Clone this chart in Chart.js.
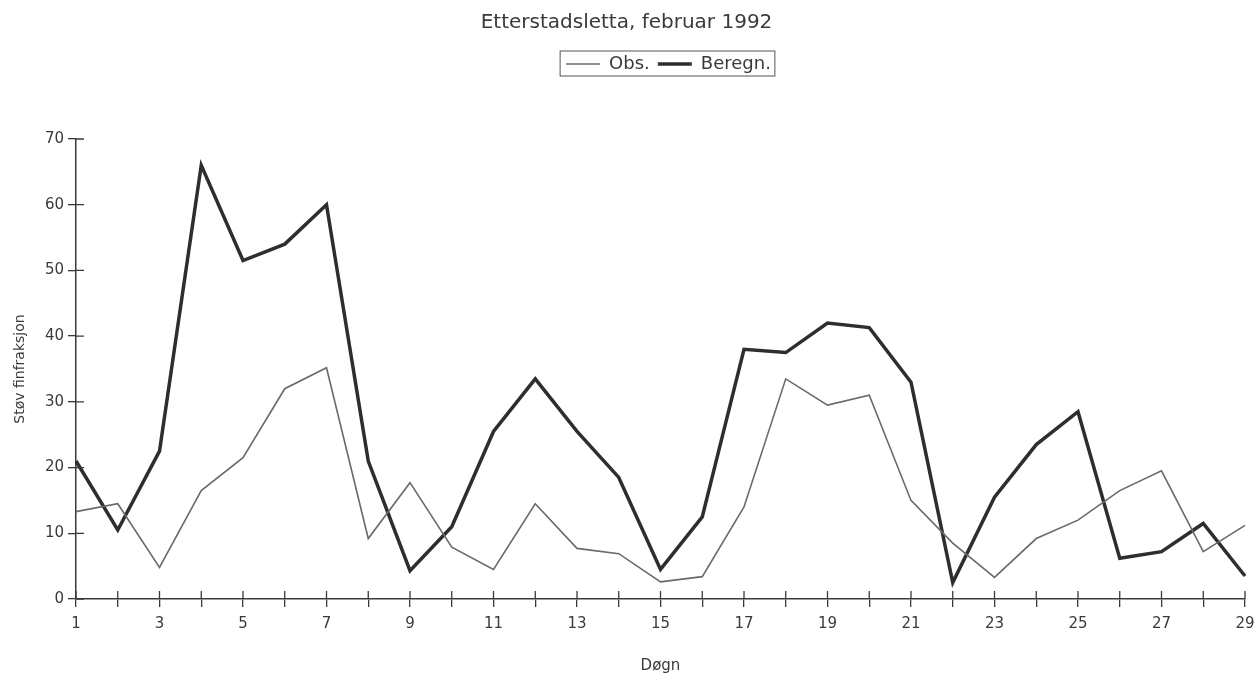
<!DOCTYPE html>
<html>
<head>
<meta charset="utf-8">
<script src="https://cdn.jsdelivr.net/npm/chart.js@4"></script>
<style>
  html, body { margin: 0; padding: 0; background: #fff; }
  #wrap { width: 1257px; height: 679px; position: relative; }
</style>
</head>
<body>
<div id="wrap"><canvas id="stov-chart"></canvas></div>
<script>
// Døgn 1..29
const days = ['1','2','3','4','5','6','7','8','9','10','11','12','13','14','15','16','17','18','19','20','21','22','23','24','25','26','27','28','29'];
const obs = [13.3, 14.5, 4.8, 16.5, 21.5, 32, 35.2, 9.2, 17.7, 7.9, 4.5, 14.5, 7.7, 6.9, 2.6, 3.4, 14, 33.5, 29.5, 31, 15, 8.5, 3.3, 9.2, 12, 16.5, 19.5, 7.2, 11.2];
const beregn = [21, 10.5, 22.5, 66, 51.5, 54, 60, 21, 4.3, 11, 25.5, 33.5, 25.5, 18.5, 4.5, 12.5, 38, 37.5, 42, 41.3, 33, 2.5, 15.5, 23.5, 28.5, 6.2, 7.2, 11.5, 3.5];
const yTicks = [0, 10, 20, 30, 40, 50, 60, 70];

const FONT = '"DejaVu Sans", sans-serif';
const INK = '#3a3a3a';
const LEGEND_SHIFT = 42;

// ticks that also poke into the plot, plus the frame round the legend
const extras = {
    id: 'extras',
    beforeInit(chart) {
        // extra room under the legend
        const fit = chart.legend.fit;
        chart.legend.fit = function () {
            fit.call(this);
            this.height += 56;
        };
    },
    afterLayout(chart) {
        // legend sits a bit right of centre in the original
        const lg = chart.legend;
        lg.left += LEGEND_SHIFT;
        lg.right += LEGEND_SHIFT;
        (lg.legendHitBoxes || []).forEach(b => { b.left += LEGEND_SHIFT; });
    },
    afterDraw(chart) {
        const ctx = chart.ctx;
        const x = chart.scales.x, y = chart.scales.y;
        ctx.save();
        ctx.strokeStyle = INK;
        ctx.lineWidth = 1.3;
        ctx.beginPath();
        days.forEach((d, i) => {
            const px = x.getPixelForValue(i);
            ctx.moveTo(px, y.bottom);
            ctx.lineTo(px, y.bottom - 8);
        });
        yTicks.forEach(v => {
            const py = y.getPixelForValue(v);
            ctx.moveTo(x.left, py);
            ctx.lineTo(x.left + 8, py);
        });
        ctx.stroke();

        const boxes = chart.legend.legendHitBoxes;
        if (boxes && boxes.length) {
            const l = Math.min(...boxes.map(b => b.left)) - 6;
            const r = Math.max(...boxes.map(b => b.left + b.width)) + 4;
            const t = Math.min(...boxes.map(b => b.top)) - 4;
            const b = Math.max(...boxes.map(b => b.top + b.height)) + 3;
            ctx.lineWidth = 1;
            ctx.strokeStyle = '#555';
            ctx.strokeRect(l, t, r - l, b - t);
        }
        ctx.restore();
    }
};

new Chart(document.getElementById('stov-chart'), {
    type: 'line',
    data: {
        labels: days,
        datasets: [{
            label: 'Obs.',
            data: obs,
            borderColor: '#6a6a6a',
            borderWidth: 1.6,
            pointRadius: 0,
            tension: 0,
        }, {
            label: 'Beregn.',
            data: beregn,
            borderColor: '#2e2e2e',
            borderWidth: 3.5,
            pointRadius: 0,
            tension: 0,
        }]
    },
    options: {
        responsive: true,
        maintainAspectRatio: false,
        animation: false,
        layout: { padding: { left: 8, right: 12, top: 0, bottom: 1 } },
        plugins: {
            title: {
                display: true,
                text: 'Etterstadsletta, februar 1992',
                color: INK,
                font: { family: FONT, size: 20, weight: 'normal' },
                padding: { top: 11, bottom: 12 }
            },
            legend: {
                display: true,
                labels: {
                    color: INK,
                    font: { family: FONT, size: 18 },
                    usePointStyle: true,
                    pointStyle: 'line',
                    pointStyleWidth: 34,
                    boxHeight: 10,
                    padding: 8
                }
            },
            tooltip: { enabled: false }
        },
        scales: {
            x: {
                offset: false,
                afterFit: s => { s.paddingRight = 0; },
                grid: { drawOnChartArea: false, tickLength: 8, color: INK, lineWidth: 1.3 },
                border: { color: INK, width: 1.5 },
                ticks: {
                    color: INK,
                    font: { family: FONT, size: 15 },
                    autoSkip: false,
                    maxRotation: 0,
                    padding: 8,
                    callback: (v, i) => (i % 2 === 0 ? days[i] : '')
                },
                title: {
                    display: true,
                    text: 'Døgn',
                    color: INK,
                    font: { family: FONT, size: 15 },
                    padding: { top: 16, bottom: 3 }
                }
            },
            y: {
                min: 0,
                max: 70,
                afterFit: s => { s.width = 68; },
                grid: { drawOnChartArea: false, tickLength: 8, color: INK, lineWidth: 1.3 },
                border: { color: INK, width: 1.5 },
                ticks: {
                    stepSize: 10,
                    color: INK,
                    font: { family: FONT, size: 15 },
                    padding: 4
                },
                title: {
                    display: true,
                    text: 'Støv finfraksjon',
                    color: INK,
                    font: { family: FONT, size: 14 },
                    padding: { bottom: 6 }
                }
            }
        }
    },
    plugins: [extras]
});
</script>
</body>
</html>
